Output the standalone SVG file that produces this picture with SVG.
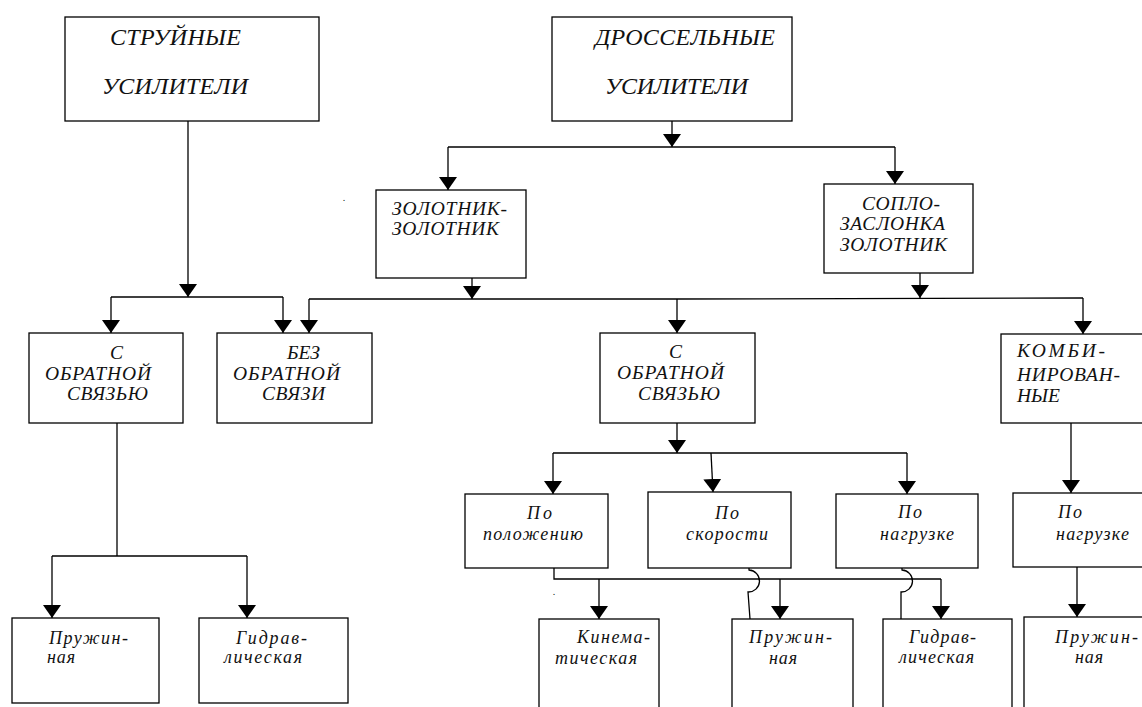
<svg xmlns="http://www.w3.org/2000/svg" width="1142" height="707" viewBox="0 0 1142 707">
<style>
.b{fill:#fff;stroke:#000;stroke-width:1.3}
.c line,.c path,.c polyline{fill:none;stroke:#000;stroke-width:1.3}
.f{font-family:"Liberation Serif","Times New Roman",Times,serif;font-style:italic;fill:#111}
.t{font-size:24px}
.m{font-size:19.5px}
.s{font-size:18px}
</style>
<defs>
<marker id="a" markerUnits="userSpaceOnUse" markerWidth="13" markerHeight="18" viewBox="0 0 13 18" refX="13" refY="9" orient="auto">
<path d="M0,0 L13,9 L0,18 z" fill="#000"/>
</marker>
</defs>
<rect x="0" y="0" width="1142" height="707" fill="#fff"/>
<g class="f">

<g id="n-struinye"><rect class="b" x="65" y="17" width="254" height="104"/>
<text class="t" x="110" y="45" textLength="131" lengthAdjust="spacing">СТРУЙНЫЕ</text>
<text class="t" x="102" y="94" textLength="146" lengthAdjust="spacing">УСИЛИТЕЛИ</text></g>

<g id="n-drossel"><rect class="b" x="552" y="17" width="240" height="104"/>
<text class="t" x="595" y="45" textLength="180" lengthAdjust="spacing">ДРОССЕЛЬНЫЕ</text>
<text class="t" x="605" y="94" textLength="143" lengthAdjust="spacing">УСИЛИТЕЛИ</text></g>

<g id="n-zz"><rect class="b" x="376" y="190" width="150" height="88"/>
<text class="m" x="392" y="215" textLength="115" lengthAdjust="spacing">ЗОЛОТНИК-</text>
<text class="m" x="392" y="235" textLength="107" lengthAdjust="spacing">ЗОЛОТНИК</text></g>

<g id="n-soplo"><rect class="b" x="824" y="184" width="149" height="89"/>
<text class="m" x="862" y="210" textLength="78" lengthAdjust="spacing">СОПЛО-</text>
<text class="m" x="840" y="230" textLength="105" lengthAdjust="spacing">ЗАСЛОНКА</text>
<text class="m" x="840" y="251" textLength="107" lengthAdjust="spacing">ЗОЛОТНИК</text></g>

<g id="n-sobr1"><rect class="b" x="29" y="333" width="154" height="90"/>
<text class="m" x="110" y="359">С</text>
<text class="m" x="45" y="380" textLength="106" lengthAdjust="spacing">ОБРАТНОЙ</text>
<text class="m" x="67" y="400" textLength="81" lengthAdjust="spacing">СВЯЗЬЮ</text></g>

<g id="n-bez"><rect class="b" x="217" y="333" width="155" height="90"/>
<text class="m" x="287" y="359" textLength="33" lengthAdjust="spacing">БЕЗ</text>
<text class="m" x="233" y="380" textLength="107" lengthAdjust="spacing">ОБРАТНОЙ</text>
<text class="m" x="262" y="400" textLength="63" lengthAdjust="spacing">СВЯЗИ</text></g>

<g id="n-sobr2"><rect class="b" x="600" y="333" width="155" height="90"/>
<text class="m" x="669" y="358">С</text>
<text class="m" x="617" y="379" textLength="107" lengthAdjust="spacing">ОБРАТНОЙ</text>
<text class="m" x="638" y="400" textLength="82" lengthAdjust="spacing">СВЯЗЬЮ</text></g>

<g id="n-kombi"><rect class="b" x="1001" y="334" width="150" height="89"/>
<text class="m" x="1017" y="357" textLength="88" lengthAdjust="spacing">КОМБИ-</text>
<text class="m" x="1017" y="381" textLength="103" lengthAdjust="spacing">НИРОВАН-</text>
<text class="m" x="1017" y="402" textLength="43" lengthAdjust="spacing">НЫЕ</text></g>

<g id="n-polozh"><rect class="b" x="465" y="494" width="143" height="74"/>
<text class="s" x="527" y="519" textLength="25" lengthAdjust="spacing">По</text>
<text class="s" x="483" y="540" textLength="100" lengthAdjust="spacing">положению</text></g>

<g id="n-skor"><rect class="b" x="648" y="492" width="143" height="76"/>
<text class="s" x="715" y="519" textLength="24" lengthAdjust="spacing">По</text>
<text class="s" x="686" y="540" textLength="82" lengthAdjust="spacing">скорости</text></g>

<g id="n-nagr1"><rect class="b" x="836" y="494" width="142" height="74"/>
<text class="s" x="898" y="518" textLength="24" lengthAdjust="spacing">По</text>
<text class="s" x="880" y="540" textLength="74" lengthAdjust="spacing">нагрузке</text></g>

<g id="n-nagr2"><rect class="b" x="1013" y="493" width="140" height="74"/>
<text class="s" x="1058" y="518" textLength="24" lengthAdjust="spacing">По</text>
<text class="s" x="1056" y="540" textLength="73" lengthAdjust="spacing">нагрузке</text></g>

<g id="n-pruzh1"><rect class="b" x="12" y="618" width="147" height="85"/>
<text class="s" x="49" y="644" textLength="79" lengthAdjust="spacing">Пружин-</text>
<text class="s" x="47" y="663" textLength="28" lengthAdjust="spacing">ная</text></g>

<g id="n-gidr1"><rect class="b" x="199" y="618" width="149" height="85"/>
<text class="s" x="236" y="644" textLength="71" lengthAdjust="spacing">Гидрав-</text>
<text class="s" x="224" y="663" textLength="78" lengthAdjust="spacing">лическая</text></g>

<g id="n-kinem"><rect class="b" x="539" y="619" width="120" height="95"/>
<text class="s" x="577" y="643" textLength="73" lengthAdjust="spacing">Кинема-</text>
<text class="s" x="555" y="664" textLength="82" lengthAdjust="spacing">тическая</text></g>

<g id="n-pruzh2"><rect class="b" x="732" y="619" width="121" height="95"/>
<text class="s" x="749" y="643" textLength="83" lengthAdjust="spacing">Пружин-</text>
<text class="s" x="769" y="664" textLength="28" lengthAdjust="spacing">ная</text></g>

<g id="n-gidr2"><rect class="b" x="883" y="619" width="129" height="95"/>
<text class="s" x="909" y="643" textLength="67" lengthAdjust="spacing">Гидрав-</text>
<text class="s" x="899" y="663" textLength="75" lengthAdjust="spacing">лическая</text></g>

<g id="n-pruzh3"><rect class="b" x="1024" y="617" width="130" height="97"/>
<text class="s" x="1055" y="643" textLength="83" lengthAdjust="spacing">Пружин-</text>
<text class="s" x="1075" y="663" textLength="28" lengthAdjust="spacing">ная</text></g>

<text x="343" y="201" font-size="10">.</text>
<text x="553" y="595" font-size="10">.</text>
</g>

<g class="c" id="connectors">
<line x1="188" y1="121" x2="188" y2="297" marker-end="url(#a)"/>
<line x1="111" y1="297" x2="283" y2="297"/>
<line x1="111" y1="297" x2="111" y2="333" marker-end="url(#a)"/>
<line x1="283" y1="297" x2="283" y2="333" marker-end="url(#a)"/>

<line x1="672" y1="121" x2="672" y2="147" marker-end="url(#a)"/>
<line x1="448" y1="147" x2="895" y2="147"/>
<line x1="448" y1="147" x2="448" y2="190" marker-end="url(#a)"/>
<line x1="895" y1="147" x2="895" y2="184" marker-end="url(#a)"/>

<line x1="472" y1="278" x2="472" y2="299" marker-end="url(#a)"/>
<line x1="920" y1="273" x2="920" y2="298" marker-end="url(#a)"/>
<polyline points="309,299 677,299 1083,298"/>
<line x1="309" y1="299" x2="309" y2="333" marker-end="url(#a)"/>
<line x1="677" y1="299" x2="677" y2="333" marker-end="url(#a)"/>
<line x1="1083" y1="298" x2="1083" y2="334" marker-end="url(#a)"/>

<line x1="117" y1="423" x2="117" y2="556"/>
<line x1="52" y1="556" x2="247" y2="556"/>
<line x1="52" y1="556" x2="52" y2="618" marker-end="url(#a)"/>
<line x1="247" y1="556" x2="247" y2="618" marker-end="url(#a)"/>

<line x1="677" y1="423" x2="677" y2="453" marker-end="url(#a)"/>
<line x1="553" y1="453" x2="907" y2="453"/>
<line x1="553" y1="453" x2="553" y2="494" marker-end="url(#a)"/>
<line x1="711" y1="453" x2="713" y2="492" marker-end="url(#a)"/>
<line x1="907" y1="453" x2="907" y2="494" marker-end="url(#a)"/>

<line x1="1071" y1="423" x2="1071" y2="493" marker-end="url(#a)"/>
<line x1="1077" y1="567" x2="1077" y2="617" marker-end="url(#a)"/>

<polyline points="554,568 554,579 941,579"/>
<line x1="599" y1="579" x2="599" y2="619" marker-end="url(#a)"/>
<line x1="780" y1="579" x2="780" y2="619" marker-end="url(#a)"/>
<line x1="941" y1="579" x2="941" y2="619" marker-end="url(#a)"/>
<path d="M749,568 L749,570 A11,11 0 0 1 748,592 L750,619"/>
<path d="M902,568 L902,570 A11,11 0 0 1 901,592 L901,619"/>
</g>
</svg>
